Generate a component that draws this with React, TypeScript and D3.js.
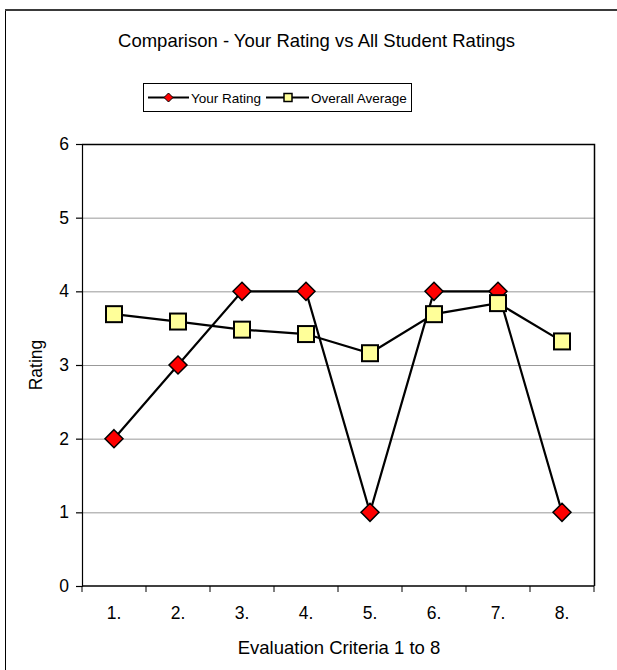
import React, { useEffect, useRef } from "react";
import * as d3 from "d3";

const categories = ["1.", "2.", "3.", "4.", "5.", "6.", "7.", "8."];
const yourRating = [2, 3, 4, 4, 1, 4, 4, 1];
const overallAverage = [3.69, 3.59, 3.48, 3.42, 3.16, 3.69, 3.84, 3.32];
const yTicks = [0, 1, 2, 3, 4, 5, 6];

const FONT = "'Liberation Sans', Arial, sans-serif";

const App: React.FC = () => {
	const ref = useRef<SVGSVGElement>(null);

	useEffect(() => {
		const svg = d3.select(ref.current);
		svg.selectAll("*").remove();

		const width = 617;
		const height = 670;
		const margin = { top: 144, right: 23, bottom: 84, left: 82 };

		// outer chart frame (continues off-page right and bottom)
		svg.append("rect")
			.attr("x", 5.5).attr("y", 10)
			.attr("width", 700).attr("height", 800)
			.attr("fill", "white").attr("stroke", "black").attr("stroke-width", 1);
		svg.append("line")
			.attr("x1", 5).attr("x2", width).attr("y1", 10).attr("y2", 10)
			.attr("stroke", "#3a3a3a").attr("stroke-width", 2);

		const x = d3.scaleBand()
			.domain(categories)
			.range([margin.left, width - margin.right]);

		const y = d3.scaleLinear()
			.domain([0, 6])
			.range([height - margin.bottom, margin.top]);

		// grid
		svg.append("g")
			.selectAll("line")
			.data(yTicks.filter((t) => t > 0 && t < 6))
			.join("line")
			.attr("x1", margin.left).attr("x2", width - margin.right)
			.attr("y1", (d) => y(d) + 0.5).attr("y2", (d) => y(d) + 0.5)
			.attr("stroke", "#999").attr("stroke-width", 1);

		// plot border top/right
		svg.append("path")
			.attr("d", `M${margin.left},${y(6) + 0.5}H${width - margin.right + 0.5}V${y(0)}`)
			.attr("fill", "none").attr("stroke", "black").attr("stroke-width", 1.5);

		// y axis
		svg.append("g")
			.attr("transform", `translate(${margin.left},0)`)
			.call(d3.axisLeft(y).tickValues(yTicks).tickSize(6).tickPadding(7).tickFormat(d3.format("d")))
			.call((g) => g.selectAll("text").attr("font-size", 17.5).attr("font-family", FONT).attr("fill", "black"))
			.call((g) => g.selectAll("line,path").attr("stroke", "black").attr("stroke-width", 1.2));

		// x axis
		const xAxisY = y(0);
		const xg = svg.append("g").attr("transform", `translate(0,${xAxisY})`);
		xg.append("line")
			.attr("x1", margin.left).attr("x2", width - margin.right)
			.attr("stroke", "black").attr("stroke-width", 1.5);
		const bounds = [...categories.map((c) => x(c)!), width - margin.right];
		xg.selectAll("line.tick")
			.data(bounds)
			.join("line")
			.attr("class", "tick")
			.attr("x1", (d) => d).attr("x2", (d) => d)
			.attr("y1", 0).attr("y2", 6)
			.attr("stroke", "black").attr("stroke-width", 1);
		xg.selectAll("text")
			.data(categories)
			.join("text")
			.attr("x", (d) => x(d)! + x.bandwidth() / 2)
			.attr("y", 619 - xAxisY)
			.attr("text-anchor", "middle")
			.attr("font-size", 17.5)
			.attr("font-family", FONT)
			.text((d) => d);

		const cx = (i: number) => x(categories[i])! + x.bandwidth() / 2;
		const line = d3.line<number>().x((_, i) => cx(i)).y((d) => y(d));

		// series lines
		svg.append("path").datum(overallAverage).attr("d", line)
			.attr("fill", "none").attr("stroke", "black").attr("stroke-width", 2.2);
		svg.append("path").datum(yourRating).attr("d", line)
			.attr("fill", "none").attr("stroke", "black").attr("stroke-width", 2.2);

		const diamond = (px: number, py: number, r: number) =>
			`M${px},${py - r}L${px + r},${py}L${px},${py + r}L${px - r},${py}Z`;

		// your rating markers
		svg.append("g").selectAll("path")
			.data(yourRating)
			.join("path")
			.attr("d", (d, i) => diamond(cx(i), y(d), 9))
			.attr("fill", "#ff0000").attr("stroke", "black").attr("stroke-width", 1.5);

		// overall average markers
		svg.append("g").selectAll("rect")
			.data(overallAverage)
			.join("rect")
			.attr("x", (_, i) => cx(i) - 8)
			.attr("y", (d) => y(d) - 8)
			.attr("width", 16).attr("height", 16)
			.attr("fill", "#ffff99").attr("stroke", "black").attr("stroke-width", 2);

		// title
		svg.append("text")
			.attr("x", 316.5).attr("y", 47)
			.attr("text-anchor", "middle")
			.attr("font-size", 18.5).attr("font-family", FONT)
			.text("Comparison - Your Rating vs All Student Ratings");

		// legend
		const legend = svg.append("g");
		legend.append("rect")
			.attr("x", 143.5).attr("y", 83.5).attr("width", 268).attr("height", 28)
			.attr("fill", "white").attr("stroke", "black").attr("stroke-width", 1);
		legend.append("line").attr("x1", 148).attr("x2", 189).attr("y1", 97.5).attr("y2", 97.5)
			.attr("stroke", "black").attr("stroke-width", 2);
		legend.append("path").attr("d", diamond(168.5, 97.5, 4.5))
			.attr("fill", "#ff0000").attr("stroke", "black").attr("stroke-width", 1);
		legend.append("text").attr("x", 191).attr("y", 102.5)
			.attr("font-size", 13.5).attr("font-family", FONT).text("Your Rating");
		legend.append("line").attr("x1", 266).attr("x2", 309).attr("y1", 97.5).attr("y2", 97.5)
			.attr("stroke", "black").attr("stroke-width", 2);
		legend.append("rect").attr("x", 284).attr("y", 93.5).attr("width", 8).attr("height", 8)
			.attr("fill", "#ffff99").attr("stroke", "black").attr("stroke-width", 1.5);
		legend.append("text").attr("x", 311).attr("y", 102.5)
			.attr("font-size", 13.5).attr("font-family", FONT).text("Overall Average");

		// axis titles
		svg.append("text")
			.attr("transform", `translate(42,${(y(0) + y(6)) / 2}) rotate(-90)`)
			.attr("text-anchor", "middle")
			.attr("font-size", 17.5).attr("font-family", FONT)
			.text("Rating");
		svg.append("text")
			.attr("x", 339).attr("y", 654)
			.attr("text-anchor", "middle")
			.attr("font-size", 18.5).attr("font-family", FONT)
			.text("Evaluation Criteria 1 to 8");
	}, []);

	return (
		<svg
			ref={ref}
			width={617}
			height={670}
			viewBox="0 0 617 670"
			style={{ position: "absolute", left: 0, top: 0, background: "white" }}
		/>
	);
};

export default App;
